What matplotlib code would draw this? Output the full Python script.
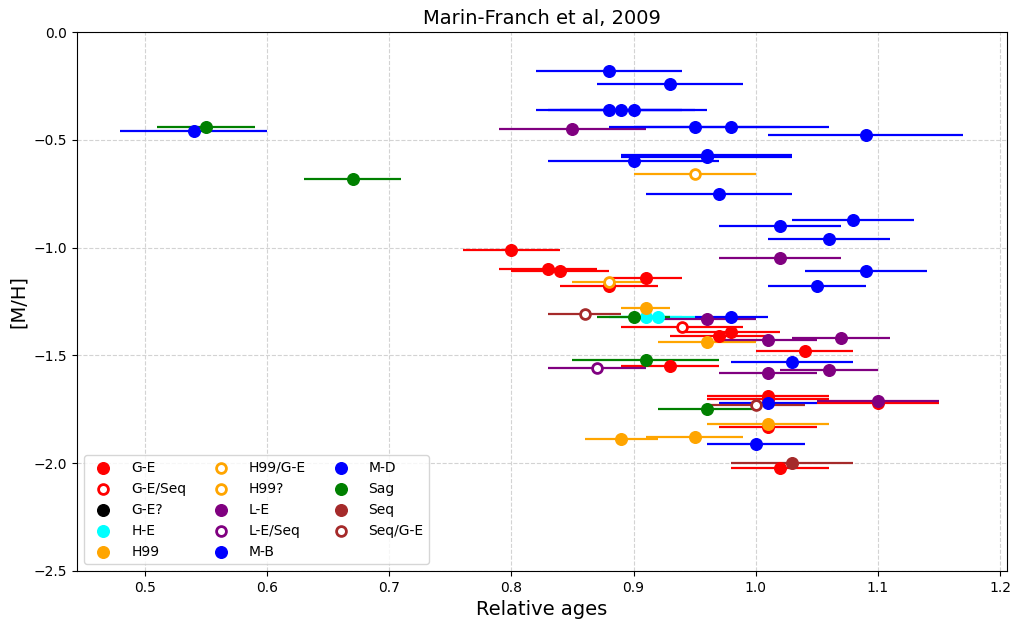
import matplotlib
matplotlib.use("Agg")
import matplotlib.pyplot as plt

# category -> colour, filled?
categories = ["G-E", "G-E/Seq", "G-E?", "H-E", "H99", "H99/G-E", "H99?",
              "L-E", "L-E/Seq", "M-B", "M-D", "Sag", "Seq", "Seq/G-E"]
colors = ["red", "red", "black", "cyan", "orange", "orange", "orange",
          "purple", "purple", "blue", "blue", "green", "brown", "brown"]
filled = [True, False, True, True, True, False, False,
          True, False, True, True, True, True, False]

# ages, age errors, metallicities per category
ge_age = [0.80, 0.83, 0.84, 0.91, 0.88, 0.98, 0.97, 1.04, 0.93, 1.01, 1.01, 1.10, 1.01, 1.02]
ge_err = [0.04, 0.04, 0.04, 0.03, 0.04, 0.04, 0.04, 0.04, 0.04, 0.05, 0.05, 0.05, 0.04, 0.04]
ge_mh = [-1.01, -1.10, -1.11, -1.14, -1.18, -1.39, -1.41, -1.48, -1.55, -1.69, -1.70, -1.72, -1.83, -2.02]

geseq_age = [0.94]
geseq_err = [0.05]
geseq_mh = [-1.37]

geq_age = []
geq_err = []
geq_mh = []

he_age = [0.91, 0.92]
he_err = [0.03, 0.03]
he_mh = [-1.32, -1.32]

h99_age = [0.91, 0.96, 1.01, 0.89, 0.95]
h99_err = [0.02, 0.04, 0.05, 0.03, 0.04]
h99_mh = [-1.28, -1.44, -1.82, -1.89, -1.88]

h99ge_age = [0.95]
h99ge_err = [0.05]
h99ge_mh = [-0.66]

h99q_age = [0.88]
h99q_err = [0.03]
h99q_mh = [-1.16]

le_age = [0.85, 1.02, 0.96, 1.01, 1.07, 1.06, 1.01, 1.10]
le_err = [0.06, 0.05, 0.04, 0.04, 0.04, 0.04, 0.04, 0.05]
le_mh = [-0.45, -1.05, -1.33, -1.43, -1.42, -1.57, -1.58, -1.71]

leseq_age = [0.87]
leseq_err = [0.04]
leseq_mh = [-1.56]

mb_age = [0.88, 0.93, 0.88, 0.89, 0.90, 0.95, 0.98, 0.96, 0.96, 0.90, 0.97,
          1.08, 1.02, 1.06, 1.09, 1.05, 0.98, 1.03, 1.01, 1.00]
mb_err = [0.06, 0.06, 0.06, 0.06, 0.06, 0.07, 0.08, 0.07, 0.07, 0.07, 0.06,
          0.05, 0.05, 0.05, 0.05, 0.04, 0.03, 0.05, 0.04, 0.04]
mb_mh = [-0.18, -0.24, -0.36, -0.36, -0.36, -0.44, -0.44, -0.57, -0.58, -0.60, -0.75,
         -0.87, -0.90, -0.96, -1.11, -1.18, -1.32, -1.53, -1.72, -1.91]

md_age = [0.54, 1.09]
md_err = [0.06, 0.08]
md_mh = [-0.46, -0.48]

sag_age = [0.55, 0.67, 0.90, 0.91, 0.96]
sag_err = [0.04, 0.04, 0.03, 0.06, 0.04]
sag_mh = [-0.44, -0.68, -1.32, -1.52, -1.75]

seq_age = [1.03]
seq_err = [0.05]
seq_mh = [-2.00]

seqge_age = [0.86, 1.00]
seqge_err = [0.03, 0.04]
seqge_mh = [-1.31, -1.73]

ages = [ge_age, geseq_age, geq_age, he_age, h99_age, h99ge_age, h99q_age,
        le_age, leseq_age, mb_age, md_age, sag_age, seq_age, seqge_age]
errs = [ge_err, geseq_err, geq_err, he_err, h99_err, h99ge_err, h99q_err,
        le_err, leseq_err, mb_err, md_err, sag_err, seq_err, seqge_err]
mhs = [ge_mh, geseq_mh, geq_mh, he_mh, h99_mh, h99ge_mh, h99q_mh,
       le_mh, leseq_mh, mb_mh, md_mh, sag_mh, seq_mh, seqge_mh]

fig = plt.figure(figsize=(10.24, 6.25), dpi=100)
ax = fig.add_axes([0.0752, 0.0864, 0.9078, 0.8624])

for i, cat in enumerate(categories):
    if len(ages[i]) > 0:
        ax.errorbar(ages[i], mhs[i], xerr=errs[i], fmt="none",
                    ecolor=colors[i], elinewidth=1.6, capsize=0, zorder=2)
    if filled[i]:
        ax.scatter(ages[i], mhs[i], s=70, color=colors[i], label=cat, zorder=3)
    else:
        ax.scatter(ages[i], mhs[i], s=50, facecolors="white", edgecolors=colors[i],
                   linewidths=2, label=cat, zorder=3)

ax.set_xlim(0.4444, 1.2054)
ax.set_ylim(-2.5, 0.0)
ax.grid(True, linestyle="--", color="lightgray", linewidth=0.8)
ax.set_axisbelow(True)
ax.set_title("Marin-Franch et al, 2009", fontsize=14)
ax.set_xlabel("Relative ages", fontsize=14)
ax.set_ylabel("[M/H]", fontsize=14)
ax.tick_params(labelsize=10)
ax.legend(loc="lower left", ncol=3, fontsize=10, framealpha=0.8,
          handletextpad=1.0, columnspacing=1.5)

fig.savefig("out.png", dpi=100)
